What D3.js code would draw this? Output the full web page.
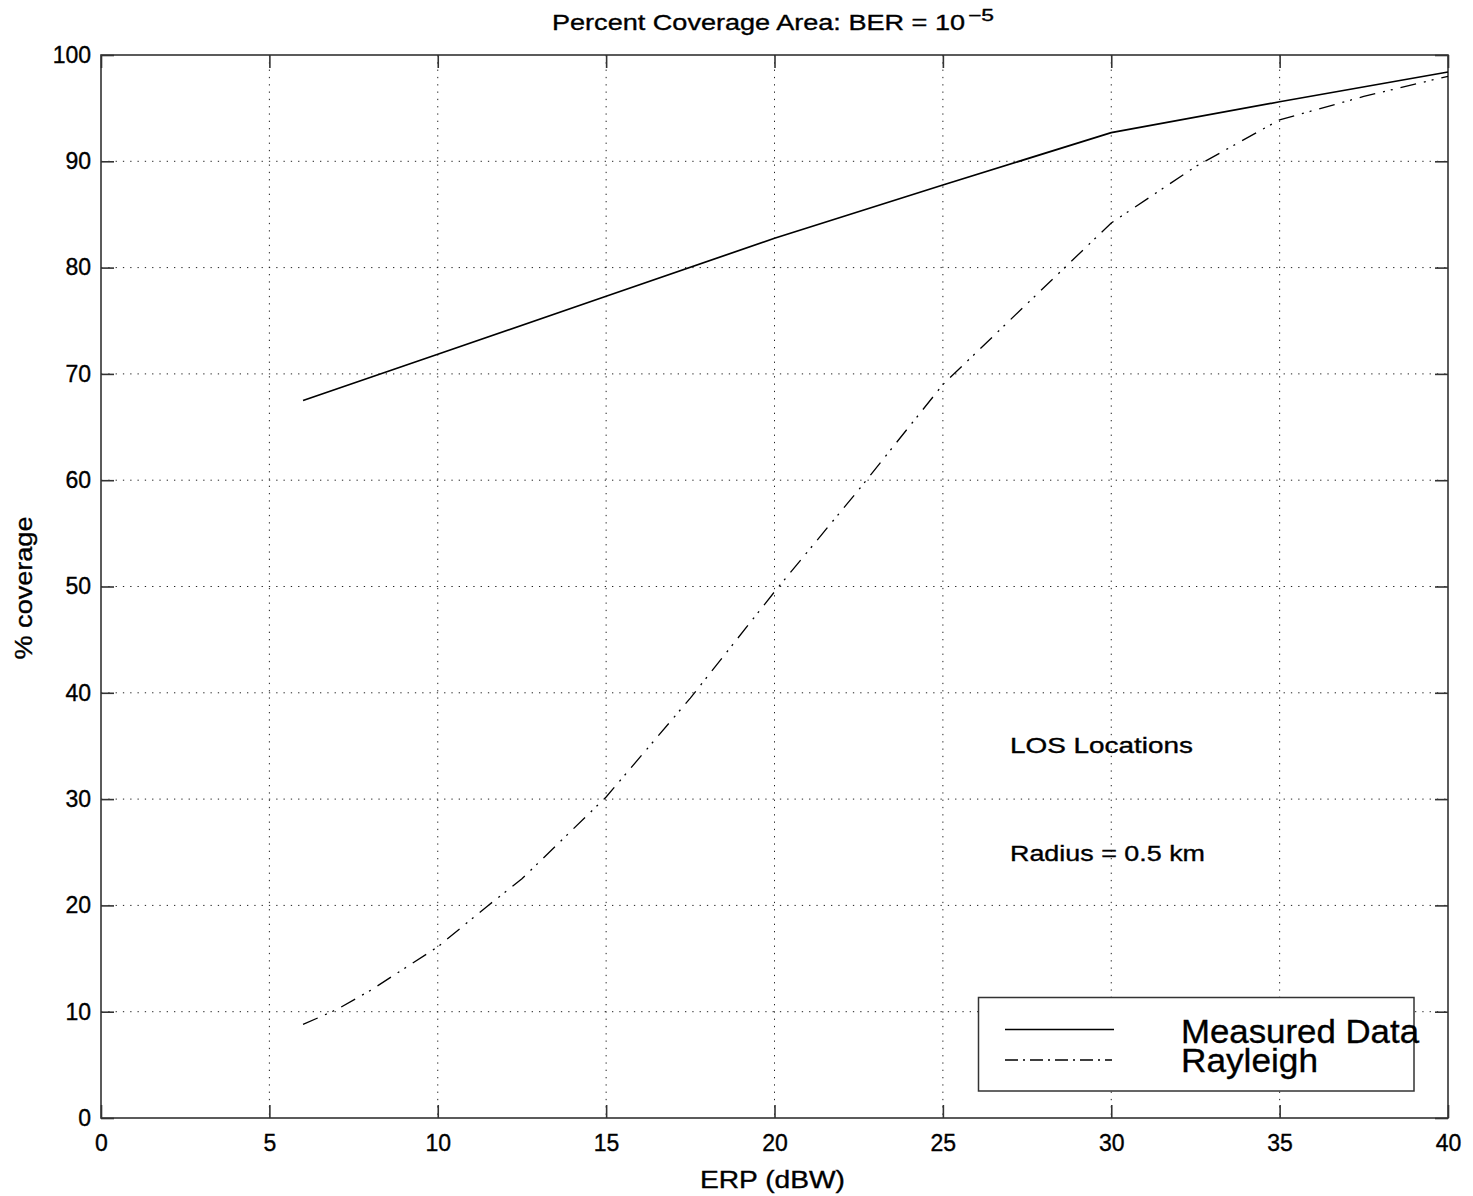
<!DOCTYPE html>
<html>
<head>
<meta charset="utf-8">
<script src="https://cdn.jsdelivr.net/npm/d3@7"></script>
<style>
  html, body { margin: 0; padding: 0; background: #fff; }
  svg { display: block; }
  text { font-family: "Liberation Sans", Arial, Helvetica, sans-serif; fill: #000; stroke: #000; stroke-width: 0.35px; }
</style>
</head>
<body>
<svg id="chart" width="1473" height="1196"></svg>
<script>
// ---- data ----
const xTicks = [0, 5, 10, 15, 20, 25, 30, 35, 40];
const yTicks = [0, 10, 20, 30, 40, 50, 60, 70, 80, 90, 100];
const measuredX = [6, 10, 15, 20, 25, 30, 35, 40];
const measuredY = [67.5, 71.85, 77.3, 82.76, 87.77, 92.7, 95.6, 98.4];
const rayleighX = [6, 7, 8, 10, 11.5, 12.5, 15, 17.5, 20, 22.5, 25, 27.5, 30, 32.5, 35, 37.5, 40];
const rayleighY = [8.8, 10.2, 12.0, 16.1, 20.0, 22.5, 30.2, 39.5, 49.5, 59.1, 69.0, 76.6, 84.2, 89.5, 93.9, 96.1, 98.0];
const seriesNames = ["Measured Data", "Rayleigh"];
const titleText = "Percent Coverage Area: BER = 10";
const titleExp = "\u22125";
const xLabel = "ERP (dBW)";
const yLabel = "% coverage";
const notes = ["LOS Locations", "Radius = 0.5 km"];

// ---- layout ----
const L = 101, R = 1448, T = 55, B = 1118;
const svg = d3.select("#chart");
const x = d3.scaleLinear().domain([0, 40]).range([L, R]);
const y = d3.scaleLinear().domain([0, 100]).range([B, T]);

// grid
const grid = svg.append("g").attr("stroke", "#222").attr("stroke-width", 1).attr("stroke-dasharray", "1.3,6");
grid.selectAll("line.gx").data(xTicks.filter(d => d > 0 && d < 40)).enter().append("line")
  .attr("x1", d => x(d)).attr("x2", d => x(d)).attr("y1", T).attr("y2", B);
grid.selectAll("line.gy").data(yTicks.filter(d => d > 0 && d < 100)).enter().append("line")
  .attr("y1", d => y(d)).attr("y2", d => y(d)).attr("x1", L).attr("x2", R);

// axes with inward ticks
function styleAxis(g) {
  g.select(".domain").remove();
  g.selectAll(".tick line").attr("stroke", "#333").attr("stroke-width", 1.6);
  g.selectAll(".tick text").style("font-size", "23px").style("font-family", "Liberation Sans, Arial, sans-serif")
    .attr("fill", "#000").attr("stroke", "#000").attr("stroke-width", 0.35);
}
const xAxisG = svg.append("g").attr("transform", `translate(0,${B})`)
  .call(d3.axisBottom(x).tickValues(xTicks).tickSize(-13).tickPadding(27).tickFormat(d3.format("d")))
  .call(styleAxis);
xAxisG.selectAll(".tick text").attr("dy", null).attr("y", 33);
svg.append("g").attr("transform", `translate(0,${T})`)
  .call(d3.axisTop(x).tickValues(xTicks).tickSize(-13).tickFormat(""))
  .call(styleAxis);
svg.append("g").attr("transform", `translate(${L},0)`)
  .call(d3.axisLeft(y).tickValues(yTicks).tickSize(-13).tickPadding(10).tickFormat(d3.format("d")))
  .call(styleAxis);
svg.append("g").attr("transform", `translate(${R},0)`)
  .call(d3.axisRight(y).tickValues(yTicks).tickSize(-13).tickFormat(""))
  .call(styleAxis);

// box
svg.append("rect").attr("x", L).attr("y", T).attr("width", R - L).attr("height", B - T)
  .attr("fill", "none").attr("stroke", "#333").attr("stroke-width", 1.6);

// lines
const line = d3.line().x(d => x(d[0])).y(d => y(d[1]));
const measured = measuredX.map((v, i) => [v, measuredY[i]]);
const rayleigh = rayleighX.map((v, i) => [v, rayleighY[i]]);
svg.append("path").datum(measured).attr("d", line).attr("fill", "none")
  .attr("stroke", "#000").attr("stroke-width", 1.7);
svg.append("path").datum(rayleigh).attr("d", line).attr("fill", "none")
  .attr("stroke", "#000").attr("stroke-width", 1.3).attr("stroke-dasharray", "16,8,2,6,2,8");

// text helper with target width
function txt(str, px, py, size, width, anchor, extra) {
  const t = svg.append("text").attr("x", px).attr("y", py).style("font-size", size + "px")
    .attr("text-anchor", anchor || "start").text(str);
  if (width) t.attr("textLength", width).attr("lengthAdjust", "spacingAndGlyphs");
  if (extra) extra(t);
  return t;
}

// title
txt(titleText, 552, 30, 22, 413, "start");
txt(titleExp, 968, 21, 16, 26, "start");

// axis labels
txt(xLabel, 700, 1188, 23, 145, "start");
txt(yLabel, 0, 0, 23, 143, "middle", t => t.attr("transform", "translate(32,588) rotate(-90)"));

// annotations
txt(notes[0], 1010, 753, 22, 183, "start");
txt(notes[1], 1010, 861, 22, 195, "start");

// legend
const lg = svg.append("g");
lg.append("rect").attr("x", 978.5).attr("y", 997.5).attr("width", 435.5).attr("height", 93.5)
  .attr("fill", "#fff").attr("stroke", "#333").attr("stroke-width", 1.5);
lg.append("line").attr("x1", 1005).attr("x2", 1114).attr("y1", 1029.5).attr("y2", 1029.5)
  .attr("stroke", "#000").attr("stroke-width", 1.7);
lg.append("line").attr("x1", 1005).attr("x2", 1112).attr("y1", 1060).attr("y2", 1060)
  .attr("stroke", "#000").attr("stroke-width", 1.3).attr("stroke-dasharray", "13,5,2,5");
txt(seriesNames[0], 1181, 1043, 34, 238, "start").attr("stroke-width", 0.2);
txt(seriesNames[1], 1181, 1072, 34, 137, "start").attr("stroke-width", 0.2);
</script>
</body>
</html>
